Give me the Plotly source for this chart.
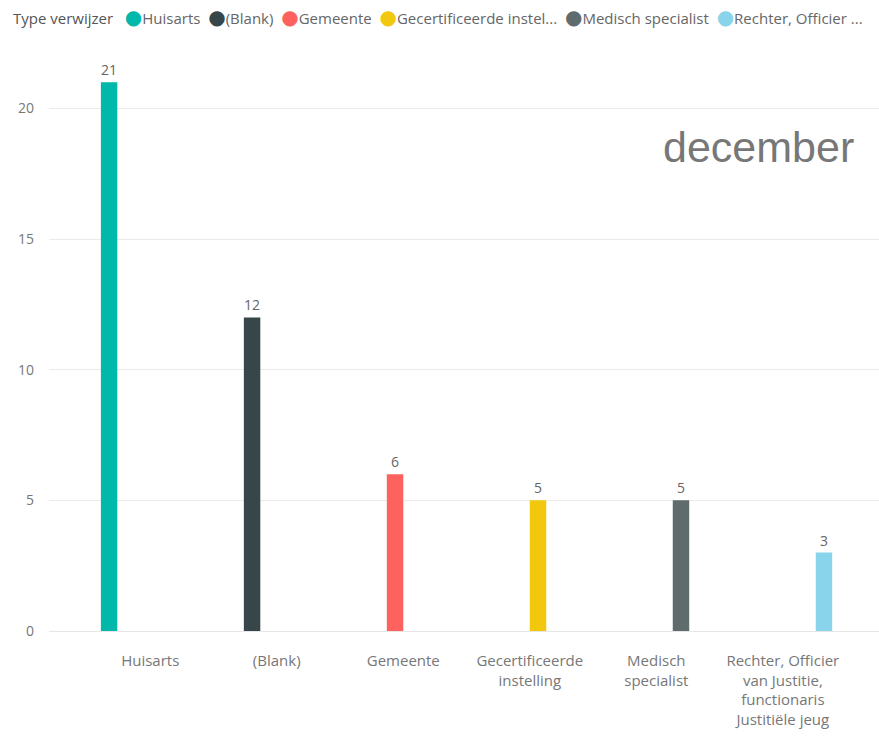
import plotly.graph_objects as go

# data
categories = [
    "Huisarts",
    "(Blank)",
    "Gemeente",
    "Gecertificeerde<br>instelling",
    "Medisch<br>specialist",
    "Rechter, Officier<br>van Justitie,<br>functionaris<br>Justitiële jeug",
]
legend_names = [
    "Huisarts",
    "(Blank)",
    "Gemeente",
    "Gecertificeerde instel...",
    "Medisch specialist",
    "Rechter, Officier ...",
]
counts = [21, 12, 6, 5, 5, 3]
colors = ["#01B8AA", "#374649", "#FD625E", "#F2C80F", "#5F6B6D", "#8AD4EB"]

FONT = "Open Sans, Segoe UI, sans-serif"

fig = go.Figure()

# one trace per type, only filled in its own category (clustered like Power BI)
for i, name in enumerate(legend_names):
    yvals = [counts[j] if j == i else None for j in range(len(categories))]
    fig.add_trace(
        go.Bar(
            x=categories,
            y=yvals,
            name=name,
            marker=dict(color=colors[i], line=dict(width=0)),
            text=[str(v) if v is not None else "" for v in yvals],
            textposition="outside",
            textfont=dict(family=FONT, size=14, color="#666666"),
            cliponaxis=False,
            showlegend=False,
        )
    )

# legend row drawn as one line of text
legend_items = []
for name, col in zip(legend_names, colors):
    legend_items.append(
        "<span style=\"color:%s;font-family:'DejaVu Sans';font-size:20px\">\u25cf</span>%s"
        % (col, name)
    )
legend_text = (
    "<span style='color:#555555'>Type verwijzer</span>\u00a0\u00a0\u00a0"
    + "\u00a0\u00a0".join(legend_items)
)

fig.add_annotation(
    text=legend_text,
    xref="paper", yref="paper",
    x=-0.046, y=1.044,
    xanchor="left", yanchor="middle",
    showarrow=False,
    font=dict(family=FONT, size=15, color="#666666"),
)

fig.add_annotation(
    text="december",
    xref="paper", yref="paper",
    x=0.855, y=0.823,
    xanchor="center", yanchor="middle",
    showarrow=False,
    font=dict(family="Liberation Sans, Arial, sans-serif", size=43, color="#777777"),
)

fig.update_layout(
    width=879,
    height=736,
    barmode="group",
    bargap=0.22,
    bargroupgap=0,
    plot_bgcolor="white",
    paper_bgcolor="white",
    margin=dict(l=49, r=0, t=43, b=105),
    font=dict(family=FONT, size=15, color="#777777"),
)

fig.update_xaxes(
    range=[-0.8, 5.76],
    showgrid=False,
    showline=False,
    zeroline=False,
    ticks="",
    ticklabelstandoff=19,
    automargin=False,
    tickfont=dict(family=FONT, size=15, color="#777777"),
)

fig.update_yaxes(
    range=[0, 22.5],
    tickvals=[0, 5, 10, 15, 20],
    showgrid=True,
    gridcolor="#EAEAEA",
    gridwidth=1,
    zeroline=True,
    zerolinecolor="#E6E6E6",
    zerolinewidth=1,
    showline=False,
    ticks="",
    ticklabelstandoff=14,
    automargin=False,
    tickfont=dict(family=FONT, size=14, color="#777777"),
)

# drop the default 8px page margin so the figure fills the window
fig.write_html(
    "out.html",
    config={"displayModeBar": False},
    post_script="document.body.style.margin='0px';",
)
